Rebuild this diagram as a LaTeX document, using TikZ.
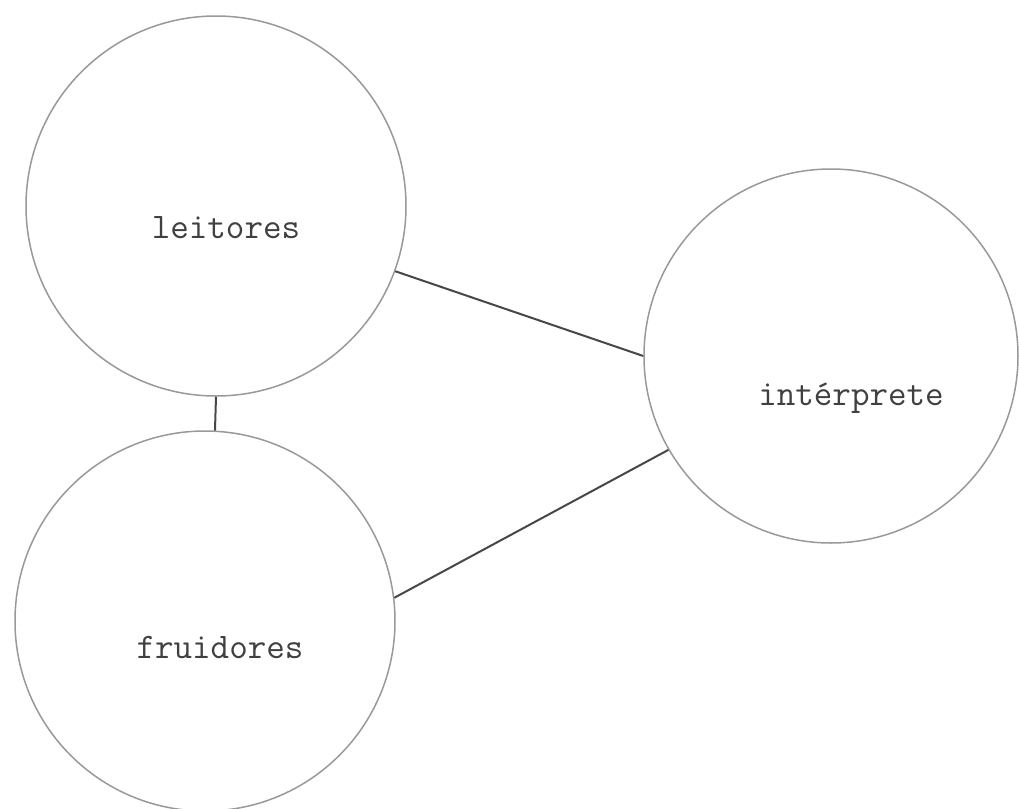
\documentclass[tikz,border=0pt]{standalone}
\begin{document}
\begin{tikzpicture}[x=0.5pt,y=-0.5pt,
  ring/.style={draw=black!40,line width=0.75pt,circle,inner sep=0pt},
  lbl/.style={anchor=base,inner sep=0pt,text=black!75,font=\ttfamily\fontsize{18}{20}\selectfont},
  link/.style={draw=black!72,line width=1pt}]
\useasboundingbox[fill=white] (0,0) rectangle (1019,809);
\node[ring,minimum size=190pt] (L) at (216,206) {};
\node[ring,minimum size=190pt] (F) at (205,621) {};
\node[ring,minimum size=187pt] (I) at (831,356) {};
\node[lbl] (Lt) at (226,238) {leitores};
\node[lbl] (Ft) at (220,658) {fruidores};
\node[lbl] (It) at (851,405) {int\'erprete};
\draw[link] (L.-20) -- (I.180);
\draw[link] (F.7.5) -- (I.210);
\draw[link] (L.270) -- (F.87);
\end{tikzpicture}
\end{document}
